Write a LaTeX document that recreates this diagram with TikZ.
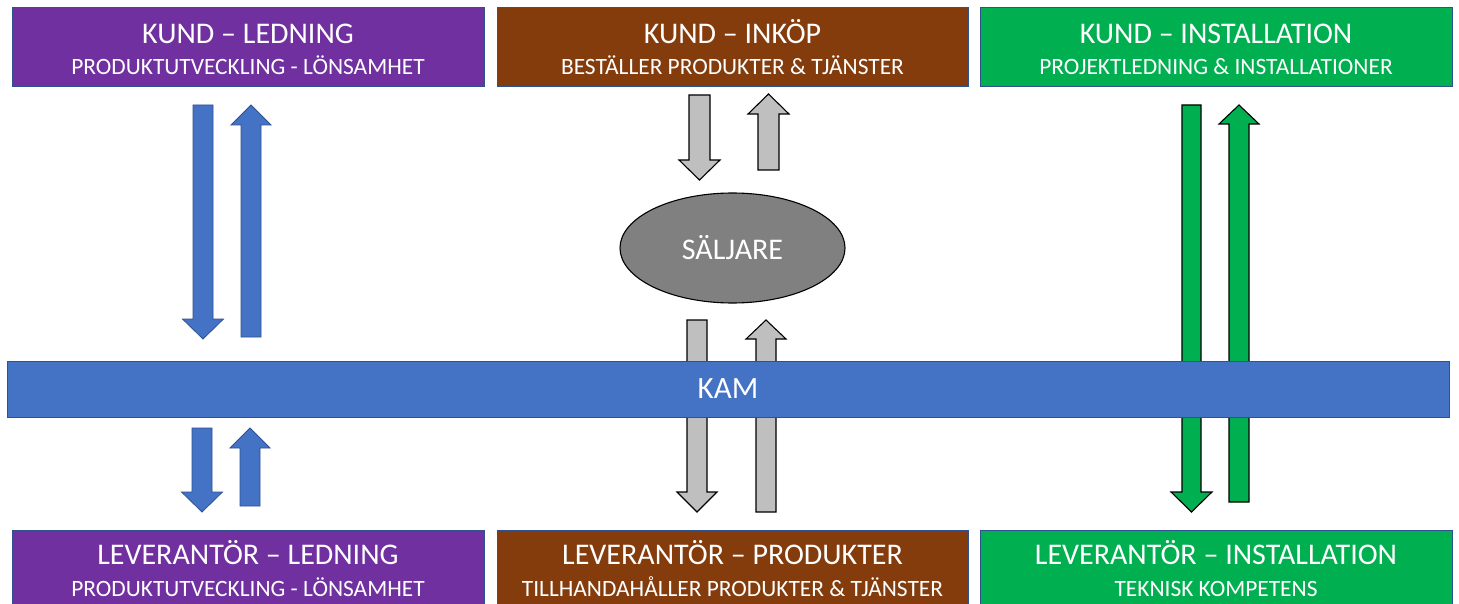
\documentclass[tikz,border=0pt]{standalone}
\usepackage{fontspec}
\setmainfont{Carlito}
\usetikzlibrary{shapes.geometric}
\definecolor{kampurple}{HTML}{7030A0}
\definecolor{kambrown}{HTML}{843C0C}
\definecolor{kamgreen}{HTML}{00B050}
\definecolor{kamblue}{HTML}{4472C4}
\definecolor{kamedge}{HTML}{2F528F}
\definecolor{kamgray}{HTML}{BFBFBF}
\definecolor{kamoval}{HTML}{808080}
\begin{document}
\begin{tikzpicture}[x=1pt,y=-1pt,
  panel/.style={draw=kamedge,line width=0.8pt,minimum height=79pt,inner sep=0pt},
  titletext/.style={text=white,anchor=base,font=\fontsize{30}{33}\selectfont},
  subtext/.style={text=white,anchor=base,font=\fontsize{23.4}{26}\selectfont},
  bluearrow/.style={fill=kamblue,draw=kamedge,line width=0.8pt,line join=miter},
  grayarrow/.style={fill=kamgray,draw=black,line width=1.1pt,line join=miter},
  greenarrow/.style={fill=kamgreen,draw=black,line width=1.1pt,line join=miter}]
\useasboundingbox (0,0) rectangle (1459,604);
\fill[white] (0,0) rectangle (1459,604);

% customer panels
\node[panel,fill=kampurple,minimum width=472pt] (kl) at (248,46.5) {};
\node[panel,fill=kambrown,minimum width=471pt] (ki) at (732.5,46.5) {};
\node[panel,fill=kamgreen,minimum width=472pt] (kn) at (1216,46.5) {};
\node[titletext] (klt) at (248,43.5) {KUND – LEDNING};
\node[subtext] (kls) at (248,75) {PRODUKTUTVECKLING - LÖNSAMHET};
\node[titletext] (kit) at (732.5,43.5) {KUND – INKÖP};
\node[subtext] (kis) at (732.5,75) {BESTÄLLER PRODUKTER \& TJÄNSTER};
\node[titletext] (knt) at (1216,43.5) {KUND – INSTALLATION};
\node[subtext] (kns) at (1216,75) {PROJEKTLEDNING \& INSTALLATIONER};

% supplier panels (run off the lower edge)
\node[panel,fill=kampurple,minimum width=472pt,minimum height=90pt] (ll) at (248,575) {};
\node[panel,fill=kambrown,minimum width=471pt,minimum height=90pt] (lp) at (732.5,575) {};
\node[panel,fill=kamgreen,minimum width=472pt,minimum height=90pt] (ln) at (1216,575) {};
\node[titletext] (llt) at (248,564.5) {LEVERANTÖR – LEDNING};
\node[subtext] (lls) at (248,596) {PRODUKTUTVECKLING - LÖNSAMHET};
\node[titletext] (lpt) at (732.5,564.5) {LEVERANTÖR – PRODUKTER};
\node[subtext] (lps) at (732.5,596) {TILLHANDAHÅLLER PRODUKTER \& TJÄNSTER};
\node[titletext] (lnt) at (1216,564.5) {LEVERANTÖR – INSTALLATION};
\node[subtext] (lns) at (1216,596) {TEKNISK KOMPETENS};

% management: arrows above and below the KAM bar
\draw[bluearrow] (193,105) -- (213,105) -- (213,319) -- (223.5,319) -- (203,339) -- (182.5,319) -- (193,319) -- cycle;
\draw[bluearrow] (241,337) -- (261,337) -- (261,125) -- (271,125) -- (251,105) -- (231,125) -- (241,125) -- cycle;
\draw[bluearrow] (192,428) -- (212,428) -- (212,492) -- (222.5,492) -- (202,512) -- (181.5,492) -- (192,492) -- cycle;
\draw[bluearrow] (240,506) -- (260,506) -- (260,448) -- (270,448) -- (250,428) -- (230,448) -- (240,448) -- cycle;

% purchasing: arrows to and from the salesperson
\draw[grayarrow] (689,95) -- (710,95) -- (710,160) -- (720,160) -- (699.5,180) -- (679,160) -- (689,160) -- cycle;
\draw[grayarrow] (758,170) -- (779,170) -- (779,114) -- (789,114) -- (768.5,94) -- (748,114) -- (758,114) -- cycle;
\draw[grayarrow] (687,320) -- (707,320) -- (707,492) -- (717,492) -- (697,512) -- (677,492) -- (687,492) -- cycle;
\draw[grayarrow] (756,512) -- (776,512) -- (776,339) -- (786,339) -- (766,320) -- (746,339) -- (756,339) -- cycle;

% installation: long arrows passing behind the KAM bar
\draw[greenarrow] (1182,105) -- (1201,105) -- (1201,492) -- (1212,492) -- (1191.5,512) -- (1171,492) -- (1182,492) -- cycle;
\draw[greenarrow] (1229,502) -- (1249,502) -- (1249,124) -- (1259,124) -- (1239,105) -- (1219,124) -- (1229,124) -- cycle;

% salesperson
\node[ellipse,fill=kamoval,draw=black,line width=1.1pt,minimum width=225pt,minimum height=110pt,inner sep=0pt,
  text=white,font=\fontsize{30}{33}\selectfont] (sal) at (732.5,248) {SÄLJARE};

% key account manager bar
\node[draw=kamedge,line width=0.8pt,fill=kamblue,minimum width=1442pt,minimum height=56pt,inner sep=0pt,
  text=white,font=\fontsize{31}{34}\selectfont] (kam) at (728,389) {KAM};
\end{tikzpicture}
\end{document}
